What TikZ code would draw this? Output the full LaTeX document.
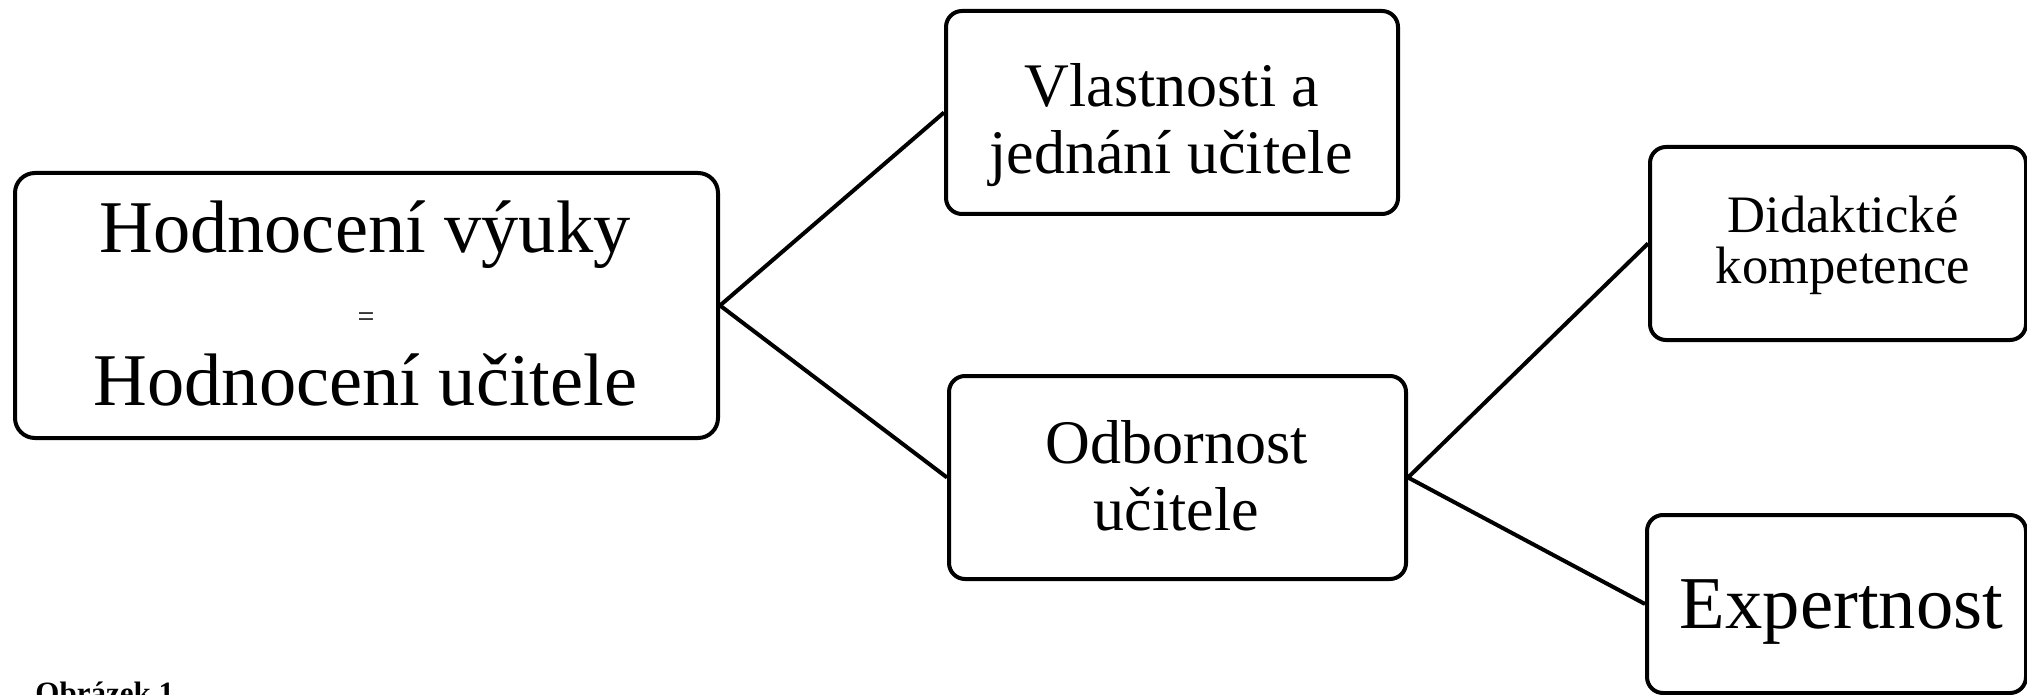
\documentclass[tikz,border=0pt]{standalone}
\usepackage{fontspec}
\setmainfont{Liberation Serif}
\begin{document}
\begin{tikzpicture}[x=0.5pt,y=-0.5pt,
  box/.style={draw=black, line width=2pt, fill=white, rounded corners=8pt, inner sep=0pt},
  txt/.style={inner sep=0pt, anchor=base},
  conn/.style={draw=black, line width=2pt},
  bigfont/.style={font=\fontsize{37.2}{40}\selectfont},
  midfont/.style={font=\fontsize{31}{34}\selectfont},
  smallfont/.style={font=\fontsize{26.3}{28}\selectfont}]
\useasboundingbox (0,0) rectangle (2027,695);
\clip (0,0) rectangle (2027,695);
\fill[white] (0,0) rectangle (2027,695);
% boxes
\node[box, rounded corners=10pt, minimum width=351.5pt, minimum height=132.5pt] (main) at (366.5,305.5) {};
\node[box, minimum width=226pt, minimum height=101.5pt] (vlast) at (1172,112.5) {};
\node[box, minimum width=228.5pt, minimum height=101.5pt] (odb) at (1177.5,477.5) {};
\node[box, minimum width=188pt, minimum height=96.5pt] (did) at (1838,243.5) {};
\node[box, minimum width=189.5pt, minimum height=89pt] (exp) at (1836.5,604) {};
% connectors
\draw[conn] (main.east) -- (vlast.west);
\draw[conn] (main.east) -- (odb.west);
\draw[conn] (odb.east) -- (did.west);
\draw[conn] (odb.east) -- (exp.west);
% texts
\node[txt, bigfont] (m1) at (365,252) {Hodnocení výuky};
\node[txt, font=\fontsize{15}{18}\selectfont] (m2) at (366,326.5) {=};
\node[txt, bigfont] (m3) at (365.5,405) {Hodnocení učitele};
\node[txt, midfont] (v1) at (1172,106.7) {Vlastnosti a};
\node[txt, midfont] (v2) at (1171,173.3) {jednání učitele};
\node[txt, midfont] (o1) at (1176.5,463.3) {Odbornost};
\node[txt, midfont] (o2) at (1176.5,530) {učitele};
\node[txt, smallfont] (d1) at (1843,233) {Didaktické};
\node[txt, smallfont] (d2) at (1843,283) {kompetence};
\node[txt, font=\fontsize{37.3}{40}\selectfont] (e1) at (1841.5,628) {Expertnost};
\node[inner sep=0pt, anchor=base west, font=\bfseries\fontsize{15.5}{18}\selectfont] (cap) at (35,703.5) {Obrázek 1};
\end{tikzpicture}
\end{document}
